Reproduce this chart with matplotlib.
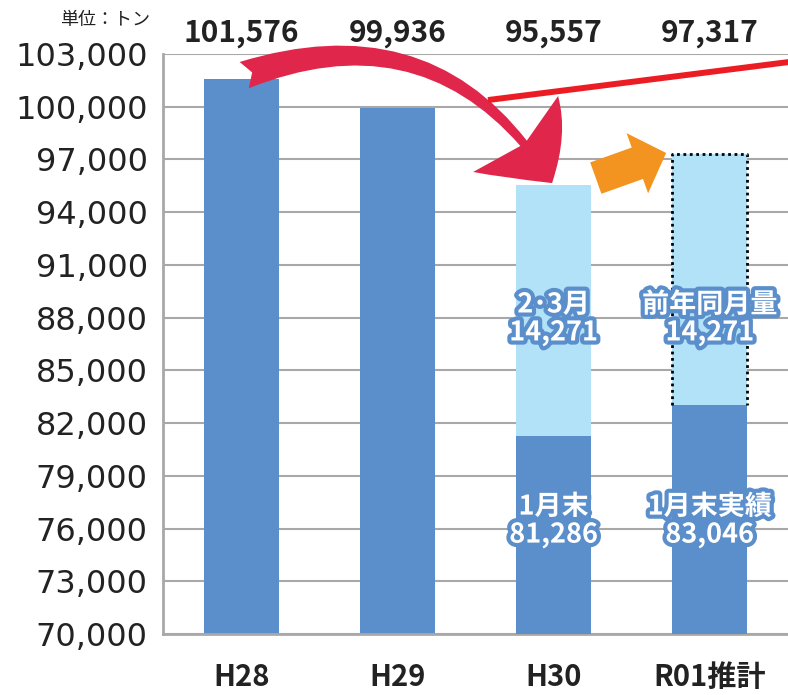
import matplotlib
matplotlib.use("Agg")
import matplotlib.pyplot as plt
import matplotlib.patheffects as pe
from matplotlib.patches import FancyArrowPatch

DARK = "#5b8fcb"
LIGHT = "#b2e2f7"
GRID = "#a8a8a8"
INK = "#222222"
CRIMSON = "#e0264a"
RED = "#ec1c24"
ORANGE = "#f39420"
JP = ["Noto Sans CJK JP", "DejaVu Sans"]

# data
years = ["H28", "H29", "H30", "R01推計"]
totals = [101576, 99936, 95557, 97317]
jan_idx = [2, 3]
jan_end = [81286, 83046]
feb_mar = [14271, 14271]
jan_names = ["1月末", "1月末実績"]
fm_names = ["2･3月", "前年同月量"]
yticks = list(range(70000, 103001, 3000))

fig = plt.figure(figsize=(7.88, 6.95), dpi=100)
ax = fig.add_axes([163/788, 61/695, 1 - 163/788, 580/695])

W = 0.48
x = list(range(len(years)))

# plain bars
ax.bar(x[:2], totals[:2], width=W, color=DARK, zorder=2)
# stacked bars
ax.bar(jan_idx, jan_end, width=W, color=DARK, zorder=3)
ax.bar(jan_idx, feb_mar, bottom=jan_end, width=W, color=LIGHT, zorder=2)

# dotted outline around the estimated part of R01
i = jan_idx[1]
x0, x1 = i - W/2, i + W/2
lo, hi = jan_end[1], jan_end[1] + feb_mar[1]
ax.plot([x0, x0, x1, x1], [lo, hi, hi, lo], color="black", lw=2,
        linestyle=(0, (1, 1.3)), zorder=4)

ax.set_xlim(-0.5, 3.5)
ax.set_ylim(70000, 103000)
ax.set_yticks(yticks)
ax.set_yticklabels([f"{v:,}" for v in yticks], fontsize=23, color=INK)
ax.set_xticks(x)
ax.set_xticklabels(years, fontsize=21, fontweight="bold", color=INK, family=JP)
ax.tick_params(axis="y", length=0, pad=11)
ax.tick_params(axis="x", length=0, pad=20)
ax.yaxis.grid(True, color=GRID, lw=1.5)
ax.set_axisbelow(True)
for s in ["top", "right"]:
    ax.spines[s].set_visible(False)
for s in ["left", "bottom"]:
    ax.spines[s].set_color(GRID)
    ax.spines[s].set_linewidth(2)

# totals above the plot
for xi, v in zip(x, totals):
    ax.text(xi, 1.036, f"{v:,}", transform=ax.get_xaxis_transform(),
            ha="center", va="center", fontsize=21.5, fontweight="bold",
            color=INK, family=JP, clip_on=False)

# labels inside stacked bars
stroke = [pe.withStroke(linewidth=6, foreground=DARK)]
for xi, name, v in zip(jan_idx, fm_names, feb_mar):
    ax.text(xi, 87950, f"{name}\n{v:,}", ha="center", va="center",
            fontsize=19.5, fontweight="bold", color="white", family=JP,
            linespacing=1.0, path_effects=stroke, zorder=6, clip_on=False)
for xi, name, v in zip(jan_idx, jan_names, jan_end):
    ax.text(xi, 76450, f"{name}\n{v:,}", ha="center", va="center",
            fontsize=19.5, fontweight="bold", color="white", family=JP,
            linespacing=1.0, path_effects=stroke, zorder=6, clip_on=False)

# decorations: thin red trend line, curved drop arrow, orange arrow
ax.plot([1.58, 3.6], [100380, 102650], color=RED, lw=4.3,
        solid_capstyle="butt", zorder=7, clip_on=False)
ax.add_patch(FancyArrowPatch((0.02, 101800), (1.99, totals[2] + 100),
             connectionstyle="arc3,rad=-0.4",
             arrowstyle="fancy,head_length=44,head_width=82,tail_width=20",
             mutation_scale=1, shrinkA=0, shrinkB=0, color=CRIMSON,
             lw=0, zorder=6, clip_on=False))
ax.add_patch(FancyArrowPatch((2.27, 95940), (2.72, 97370),
             arrowstyle="simple,head_length=22,head_width=46,tail_width=24",
             mutation_scale=1, shrinkA=0, shrinkB=0, color=ORANGE,
             lw=0, zorder=6, clip_on=False))

fig.text(150/788, 1 - 20/695, "単位：トン", ha="right", va="center",
         fontsize=13, color=INK, family=JP)

fig.savefig("out.png", dpi=100)
